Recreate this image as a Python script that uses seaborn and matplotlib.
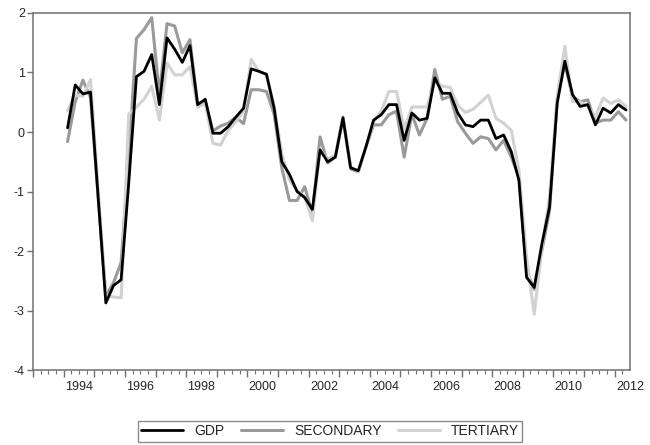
import numpy as np
import pandas as pd
import matplotlib
matplotlib.use('Agg')
import matplotlib.pyplot as plt
import seaborn as sns

# quarterly series, 1994Q1 .. 2012Q2
start_year = 1994
n_quarters = 74

gdp = [0.07, 0.79, 0.64, 0.67, -1.10, -2.87, -2.58, -2.48,
       -0.85, 0.93, 1.02, 1.30, 0.46, 1.58, 1.39, 1.17,
       1.45, 0.46, 0.55, -0.02, -0.02, 0.09, 0.25, 0.40,
       1.06, 1.02, 0.97, 0.40, -0.50, -0.71, -1.00, -1.10,
       -1.30, -0.30, -0.50, -0.42, 0.24, -0.60, -0.65, -0.25,
       0.20, 0.29, 0.46, 0.46, -0.14, 0.32, 0.20, 0.23,
       0.91, 0.65, 0.65, 0.32, 0.12, 0.09, 0.20, 0.20,
       -0.11, -0.05, -0.33, -0.81, -2.44, -2.61, -1.88, -1.26,
       0.48, 1.19, 0.63, 0.43, 0.46, 0.12, 0.40, 0.32,
       0.46, 0.37]

secondary = [-0.16, 0.51, 0.87, 0.58, -1.10, -2.75, -2.53, -2.19,
             -0.40, 1.57, 1.72, 1.92, 0.63, 1.82, 1.78, 1.33,
             1.55, 0.46, 0.52, 0.02, 0.10, 0.15, 0.25, 0.14,
             0.71, 0.71, 0.68, 0.30, -0.60, -1.15, -1.15, -0.92,
             -1.37, -0.08, -0.52, -0.42, 0.23, -0.62, -0.67, -0.25,
             0.12, 0.12, 0.29, 0.35, -0.42, 0.30, -0.05, 0.23,
             1.05, 0.55, 0.60, 0.17, -0.02, -0.19, -0.08, -0.11,
             -0.30, -0.14, -0.42, -0.76, -2.33, -2.64, -1.99, -1.32,
             0.54, 1.15, 0.60, 0.51, 0.54, 0.15, 0.20, 0.20,
             0.34, 0.20]

tertiary = [0.36, 0.62, 0.60, 0.88, -1.00, -2.75, -2.77, -2.78,
            0.30, 0.42, 0.55, 0.77, 0.20, 1.16, 0.96, 0.96,
            1.10, 0.42, 0.48, -0.19, -0.22, 0.03, 0.17, 0.35,
            1.22, 1.02, 0.96, 0.45, -0.36, -0.81, -0.98, -1.09,
            -1.49, -0.30, -0.45, -0.39, 0.26, -0.58, -0.67, -0.25,
            0.17, 0.35, 0.68, 0.68, 0.05, 0.42, 0.42, 0.42,
            0.85, 0.77, 0.75, 0.45, 0.33, 0.38, 0.50, 0.62,
            0.23, 0.15, 0.03, -0.64, -2.10, -3.06, -1.94, -1.09,
            0.60, 1.44, 0.51, 0.51, 0.43, 0.26, 0.57, 0.48,
            0.54, 0.43]

series_names = ['GDP', 'SECONDARY', 'TERTIARY']
year_labels = ['1994', '1996', '1998', '2000', '2002', '2004', '2006', '2008', '2010', '2012']

# quarter midpoints as fractional years
t = start_year + np.arange(n_quarters) / 4 + 0.125

df = pd.DataFrame({'t': t, 'GDP': gdp, 'SECONDARY': secondary, 'TERTIARY': tertiary})
long = df.melt(id_vars='t', var_name='series', value_name='value')

sns.set_style('white')
plt.rcParams['font.family'] = ['Liberation Sans', 'DejaVu Sans']
plt.rcParams['axes.unicode_minus'] = False

fig = plt.figure(figsize=(6.5, 4.45), dpi=100)
ax = fig.add_axes([0.051, 0.168, 0.918, 0.803])

colors = {'GDP': '#000000', 'SECONDARY': '#9a9a9a', 'TERTIARY': '#d2d2d2'}
widths = {'GDP': 2.0, 'SECONDARY': 2.2, 'TERTIARY': 2.2}
zorders = {'GDP': 5, 'SECONDARY': 3, 'TERTIARY': 4}

for name in series_names:
    sns.lineplot(data=long[long['series'] == name], x='t', y='value',
                 color=colors[name], linewidth=widths[name], ax=ax,
                 label=name, zorder=zorders[name])

ax.set_xlim(1993.0, 2012.5)
ax.set_ylim(-4, 2)
ax.set_xlabel('')
ax.set_ylabel('')

# y axis
ax.set_yticks(range(-4, 3))
ax.tick_params(axis='y', left=True, direction='out', length=4, width=1, color='#707070',
               labelsize=9, pad=2)

# x axis: year ticks + quarter ticks, labels centred on the year
ax.set_xticks(np.arange(1993, 2013))
ax.set_xticklabels([])
ax.set_xticks(np.arange(1993, 2012.5, 0.25), minor=True)
ax.tick_params(axis='x', which='major', bottom=True, direction='out', length=5, width=1,
               color='#707070')
ax.tick_params(axis='x', which='minor', bottom=True, direction='out', length=3, width=0.8,
               color='#707070')

sec = ax.secondary_xaxis('bottom')
sec.set_xticks([int(y) + 0.5 for y in year_labels])
sec.set_xticklabels(year_labels)
sec.tick_params(length=0, labelsize=9, pad=8)
sec.spines['bottom'].set_visible(False)

for s in ax.spines.values():
    s.set_color('#707070')
    s.set_linewidth(1.1)

ax.get_legend().remove()
handles, labels = ax.get_legend_handles_labels()
leg = fig.legend(handles, labels, loc='center', bbox_to_anchor=(0.508, 0.031),
                 ncol=3, frameon=True, fancybox=False, fontsize=10,
                 handlelength=3.0, handletextpad=0.8, columnspacing=1.2,
                 borderpad=0.25)
leg.get_frame().set_edgecolor('#707070')
leg.get_frame().set_linewidth(1.0)

fig.savefig('out.png', dpi=100)
